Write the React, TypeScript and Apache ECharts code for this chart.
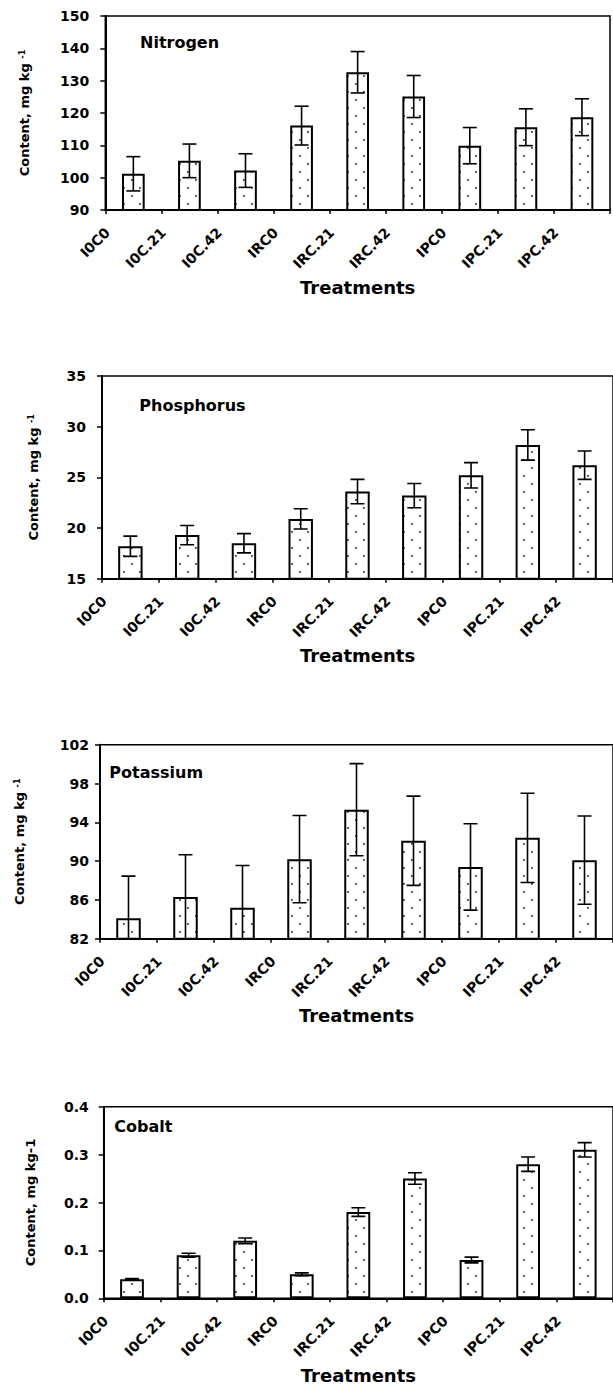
import React, { useEffect, useRef } from 'react';
import * as echarts from 'echarts';

// ---- data ----
const treatments = ['I0C0', 'I0C.21', 'I0C.42', 'IRC0', 'IRC.21', 'IRC.42', 'IPC0', 'IPC.21', 'IPC.42'];

const nitrogen = [101.2, 105.2, 102.2, 116.1, 132.6, 125.1, 109.9, 115.6, 118.7];
const nitrogenErr = [5.3, 5.2, 5.2, 6.0, 6.4, 6.5, 5.6, 5.7, 5.7];

const phosphorus = [18.2, 19.3, 18.5, 20.9, 23.6, 23.2, 25.2, 28.2, 26.2];
const phosphorusErr = [1.0, 0.95, 0.95, 1.0, 1.2, 1.2, 1.25, 1.5, 1.4];

const potassium = [84.1, 86.3, 85.2, 90.2, 95.3, 92.1, 89.4, 92.4, 90.1];
const potassiumErr = [4.35, 4.35, 4.35, 4.5, 4.75, 4.6, 4.45, 4.6, 4.55];

const cobalt = [0.04, 0.09, 0.12, 0.05, 0.18, 0.25, 0.08, 0.28, 0.31];
const cobaltErr = [0.001, 0.004, 0.006, 0.003, 0.009, 0.012, 0.006, 0.015, 0.015];

const panelTitles = ['Nitrogen', 'Phosphorus', 'Potassium', 'Cobalt'];
const panelValues = [nitrogen, phosphorus, potassium, cobalt];
const panelErrors = [nitrogenErr, phosphorusErr, potassiumErr, cobaltErr];
const yMins = [90, 15, 82, 0];
const yMaxs = [150, 35, 102, 0.4];
const yIntervals = [10, 5, 4, 0.1];
const yDecimals = [0, 0, 0, 1];
const yNames = ['Content, mg kg {sup|-1}', 'Content, mg kg {sup|-1}', 'Content, mg kg {sup|-1}', 'Content, mg kg-1'];
const xName = 'Treatments';

// ---- layout (positions / sizes) ----
const layouts = [
  { left: 105.3, top: 16, width: 504.7, height: 194, labelMargin: 16, nameGap: 74, titleX: 140, titleY: 42.7, barWidth: '40.5%' },
  { left: 102, top: 376, width: 523.8, height: 202.7, labelMargin: 16, nameGap: 62, titleX: 139.3, titleY: 405, barWidth: '43%' },
  { left: 100, top: 744.7, width: 523.8, height: 194, labelMargin: 11, nameGap: 74, titleX: 109.3, titleY: 772.3, barWidth: '43%' },
  { left: 103.7, top: 1106.7, width: 517.5, height: 191.6, labelMargin: 15, nameGap: 67, titleX: 114.3, titleY: 1126.7, barWidth: '42%' },
];
const LABEL_ROT = 45;
const LABEL_DX = 2;
const LABEL_DY = 20;

const FONT = '"DejaVu Sans", "Liberation Sans", Arial, sans-serif';

function makeDots() {
  const c = document.createElement('canvas');
  c.width = 16;
  c.height = 16;
  const ctx = c.getContext('2d')!;
  ctx.fillStyle = '#ffffff';
  ctx.fillRect(0, 0, 16, 16);
  ctx.fillStyle = '#444444';
  ctx.fillRect(3, 3, 1.8, 1.8);
  ctx.fillRect(11, 11, 1.8, 1.8);
  return c;
}

export default function App() {
  const ref = useRef<HTMLDivElement>(null);

  useEffect(() => {
    if (!ref.current) return;
    const chart = echarts.init(ref.current, undefined, { renderer: 'svg' });
    const dots = makeDots();
    const pattern: any = { image: dots, repeat: 'repeat', imageWidth: 16, imageHeight: 16 };

    const grid: any[] = [];
    const xAxis: any[] = [];
    const yAxis: any[] = [];
    const series: any[] = [];
    const graphic: any[] = [];

    layouts.forEach((L, p) => {
      grid.push({
        left: L.left, top: L.top, width: L.width, height: L.height,
        show: true, borderColor: '#000', borderWidth: 1.5, backgroundColor: 'transparent',
        containLabel: false,
      });
      // main category axis: bars, ticks at category boundaries
      xAxis.push({
        type: 'category', gridIndex: p, data: treatments, boundaryGap: true, position: 'bottom',
        axisLine: { show: true, onZero: false, lineStyle: { color: '#000', width: 2 } },
        axisTick: { show: true, length: 4, lineStyle: { color: '#000', width: 1.5 } },
        axisLabel: { show: false },
        splitLine: { show: false },
        name: xName, nameLocation: 'middle', nameGap: 68,
        nameTextStyle: { fontFamily: FONT, fontWeight: 'bold', fontSize: 18, color: '#000' },
      });
      // boundary axis: gives the category-boundary positions where tick labels sit
      xAxis.push({
        type: 'category', gridIndex: p, data: [...treatments, ''], boundaryGap: false, position: 'bottom',
        axisLine: { show: false, onZero: false }, axisTick: { show: false }, splitLine: { show: false },
        axisLabel: { show: false },
      });
      yAxis.push({
        type: 'value', gridIndex: p, min: yMins[p], max: yMaxs[p], interval: yIntervals[p],
        axisLine: { show: true, lineStyle: { color: '#000', width: 2 } },
        axisTick: { show: true, length: 5, lineStyle: { color: '#000', width: 1.5 } },
        splitLine: { show: false },
        axisLabel: {
          margin: L.labelMargin, fontFamily: FONT, fontWeight: 'bold', fontSize: 14, color: '#000',
          formatter: (v: number) => v.toFixed(yDecimals[p]),
        },
        name: yNames[p], nameLocation: 'middle', nameRotate: 90, nameGap: L.nameGap,
        nameTextStyle: {
          fontFamily: FONT, fontWeight: 'bold', fontSize: 13, color: '#000',
          rich: { sup: { fontFamily: FONT, fontWeight: 'bold', fontSize: 8, color: '#000', verticalAlign: 'top' } },
        },
      });
      series.push({
        type: 'bar', xAxisIndex: 2 * p, yAxisIndex: p, data: panelValues[p], barWidth: L.barWidth,
        itemStyle: { color: pattern, borderColor: '#000', borderWidth: 2 },
        z: 2,
      });
      series.push({
        type: 'custom', xAxisIndex: 2 * p, yAxisIndex: p, clip: true, z: 3,
        data: panelValues[p].map((v, i) => [i, v - panelErrors[p][i], v + panelErrors[p][i]]),
        encode: { x: 0, y: [1, 2] },
        renderItem: (params: any, api: any) => {
          const x = api.value(0);
          const hi = api.coord([x, api.value(2)]);
          const lo = api.coord([x, api.value(1)]);
          const hw = 7;
          const style = { stroke: '#000', lineWidth: 1.6, fill: null };
          return {
            type: 'group',
            children: [
              { type: 'line', shape: { x1: hi[0], y1: hi[1], x2: lo[0], y2: lo[1] }, style },
              { type: 'line', shape: { x1: hi[0] - hw, y1: hi[1], x2: hi[0] + hw, y2: hi[1] }, style },
              { type: 'line', shape: { x1: lo[0] - hw, y1: lo[1], x2: lo[0] + hw, y2: lo[1] }, style },
            ],
          };
        },
      });
      graphic.push({
        type: 'text', x: L.titleX, y: L.titleY, z: 10,
        style: {
          text: panelTitles[p], fill: '#000', font: `bold 16px ${FONT}`,
          verticalAlign: 'middle', textVerticalAlign: 'middle',
        },
      });
    });

    chart.setOption({
      animation: false,
      backgroundColor: '#fff',
      grid, xAxis, yAxis, series, graphic,
    });

    // rotated tick labels at category boundaries, positioned through the axes
    const labels: any[] = [];
    layouts.forEach((L, p) => {
      const axisY = chart.convertToPixel({ yAxisIndex: p } as any, yMins[p]) as unknown as number;
      treatments.forEach((t, i) => {
        const bx = chart.convertToPixel({ xAxisIndex: 2 * p + 1 } as any, i) as unknown as number;
        labels.push({
          type: 'text', x: bx + LABEL_DX, y: axisY + LABEL_DY, rotation: (LABEL_ROT * Math.PI) / 180, z: 10,
          style: {
            text: t, fill: '#000', font: `bold 14px ${FONT}`,
            align: 'right', verticalAlign: 'middle', textAlign: 'right', textVerticalAlign: 'middle',
          },
        });
      });
    });
    chart.setOption({ graphic: [...graphic, ...labels] });

    return () => chart.dispose();
  }, []);

  return (
    <div
      ref={ref}
      style={{ position: 'absolute', left: 0, top: 0, width: 613, height: 1387, background: '#fff' }}
    />
  );
}
